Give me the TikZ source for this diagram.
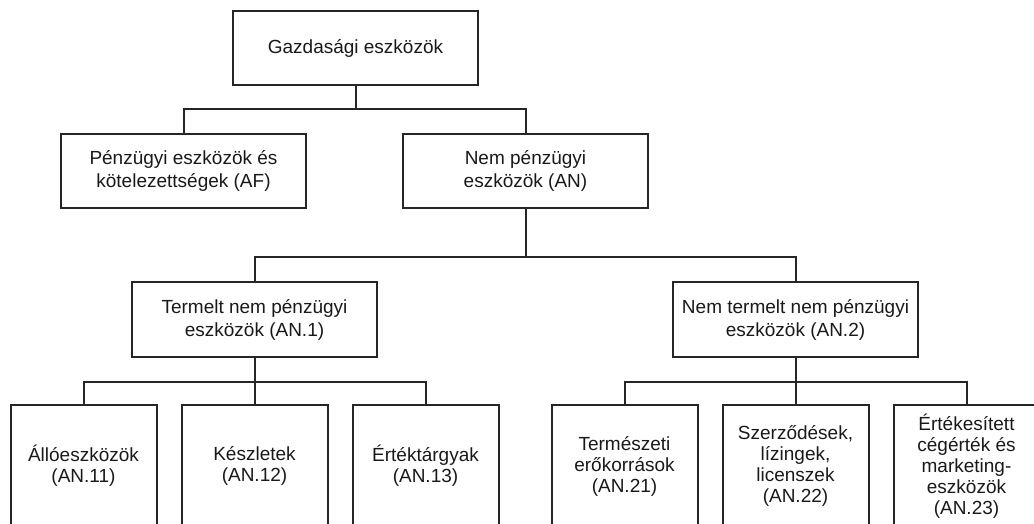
\documentclass[tikz,border=0pt]{standalone}
\usepackage{fontspec}
\setmainfont{Liberation Sans}
\usetikzlibrary{positioning}
\tikzset{
  box/.style={draw=black!85, line width=2pt, rectangle, outer sep=0pt,
    inner sep=0pt, align=center, text=black!90,
    font=\fontsize{19pt}{23pt}\selectfont}, % boxes of the tree
  wide/.style={box, minimum width=245pt, minimum height=74pt},
  leaf/.style={box, minimum width=146pt, minimum height=122pt,
    font=\fontsize{19pt}{21pt}\selectfont},
  link/.style={draw=black!85, line width=2pt}, % connectors
}
\begin{document}
\begin{tikzpicture}
  \useasboundingbox (0pt,0pt) rectangle (1034pt,-524pt);
  \clip (0pt,0pt) rectangle (1034pt,-524pt);

  % first two levels
  \node[wide] (gazd) at (355.5pt,-48pt) {Gazdasági eszközök};
  \node[wide, below=49pt of gazd, xshift=-172pt] (af) {Pénzügyi eszközök és\\kötelezettségek (AF)};
  \node[wide, right=97pt of af] (an) {Nem pénzügyi\\eszközök (AN)};

  % third level
  \node[wide, minimum height=75pt, below=74pt of an, xshift=-271pt] (an1) {Termelt nem pénzügyi\\eszközök (AN.1)};
  \node[wide, minimum height=75pt, right=296pt of an1] (an2) {Nem termelt nem pénzügyi\\eszközök (AN.2)};

  % leaves
  \node[leaf, below=48pt of an1] (an12) {Készletek\\(AN.12)};
  \node[leaf, left=25pt of an12] (an11) {Állóeszközök\\(AN.11)};
  \node[leaf, right=25pt of an12] (an13) {Értéktárgyak\\(AN.13)};
  \node[leaf, below=48pt of an2] (an22) {Szerződések,\\lízingek,\\licenszek\\(AN.22)};
  \node[leaf, left=25pt of an22] (an21) {Természeti\\erőkorrások\\(AN.21)};
  \node[leaf, right=25pt of an22] (an23) {Értékesített\\cégérték és\\marketing-\\eszközök\\(AN.23)};

  % junctions
  \coordinate[below=24pt of gazd] (j0);
  \coordinate[below=49pt of an] (jan);
  \coordinate[below=25pt of an1] (jan1);
  \coordinate[below=25pt of an2] (jan2);

  \draw[link] (gazd) -- (j0) (af) |- (j0) -| (an);
  \draw[link] (an) -- (jan) (an1) |- (jan) -| (an2);
  \draw[link] (an1) -- (an12) (an11) |- (jan1) -| (an13);
  \draw[link] (an2) -- (an22) (an21) |- (jan2) -| (an23);
\end{tikzpicture}
\end{document}
